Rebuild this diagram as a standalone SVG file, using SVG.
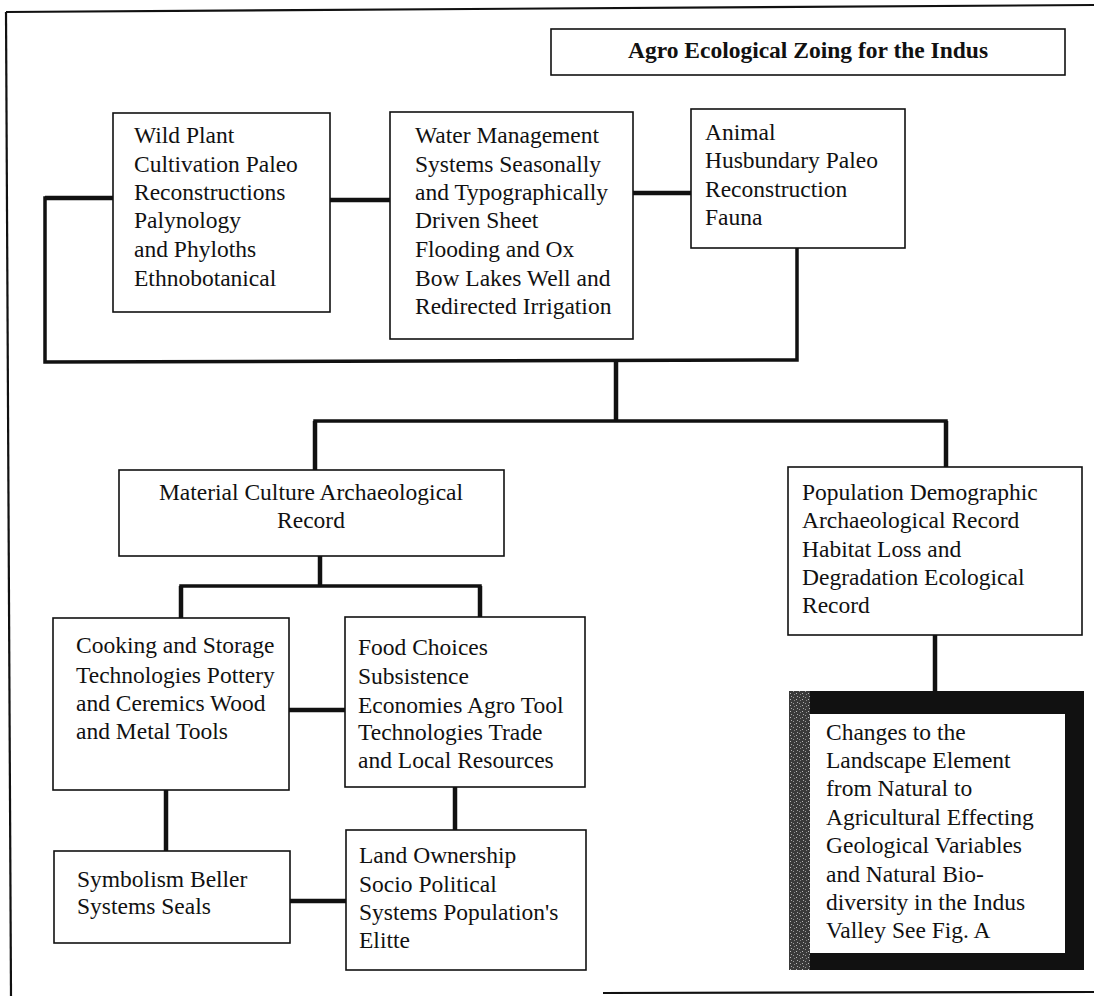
<svg xmlns="http://www.w3.org/2000/svg" width="1094" height="996" viewBox="0 0 1094 996">
<defs>
<style>
.box{fill:#fff;stroke:#111;stroke-width:1.6}
.t{font-family:"Liberation Serif","Times New Roman",serif;font-size:23.5px;fill:#111}
.tb{font-family:"Liberation Serif","Times New Roman",serif;font-size:23.5px;font-weight:bold;fill:#111}
.c{fill:none;stroke:#111;stroke-width:4.5;stroke-linecap:butt}
.cl{fill:none;stroke:#111;stroke-width:3.5}
.frame{fill:none;stroke:#111;stroke-width:2.2}
</style>
<pattern id="speck" width="6" height="6" patternUnits="userSpaceOnUse">
<rect width="6" height="6" fill="#3a3a3a"/>
<rect x="1" y="1" width="1" height="1" fill="#999"/>
<rect x="4" y="3" width="1" height="1" fill="#bbb"/>
<rect x="2" y="4" width="1" height="1" fill="#888"/>
<rect x="5" y="0" width="1" height="1" fill="#aaa"/>
</pattern>
</defs>
<rect width="1094" height="996" fill="#fff"/>
<g id="frame">
<path class="frame" d="M6,12 L1094,5"/>
<path class="frame" d="M6,12 L11,996"/>
<path class="frame" d="M603,993 L1094,992" stroke-width="1.8"/>
</g>
<g id="connectors">
<path class="cl" d="M113,198 L45,198 L45,362 L797,360 L797,248"/>
<path class="c" d="M45,198 L113,198"/>
<path class="c" d="M330,200 L390,200"/>
<path class="c" d="M633,193 L691,193"/>
<path class="c" d="M616,360 L616,421"/>
<path class="cl" d="M315,470 L315,421 L946,421 L946,467"/>
<path class="c" d="M315,421 L315,470"/>
<path class="c" d="M946,421 L946,467"/>
<path class="c" d="M320,556 L320,586"/>
<path class="cl" d="M181,618 L181,586 L480,586 L480,617"/>
<path class="c" d="M181,586 L181,618"/>
<path class="c" d="M480,586 L480,617"/>
<path class="c" d="M289,710 L345,710"/>
<path class="c" d="M166,790 L166,851"/>
<path class="c" d="M455,787 L455,830"/>
<path class="c" d="M290,901 L346,901"/>
<path class="c" d="M935,635 L935,691"/>
</g>
<g id="title">
<rect class="box" x="551" y="29" width="514" height="46"/>
<text class="tb" x="808" y="58" text-anchor="middle">Agro Ecological Zoing for the Indus</text>
</g>
<g id="wild-plant">
<rect class="box" x="113" y="113" width="217" height="199"/>
<text class="t" x="134" y="143">Wild Plant</text>
<text class="t" x="134" y="172">Cultivation Paleo</text>
<text class="t" x="134" y="200">Reconstructions</text>
<text class="t" x="134" y="228">Palynology</text>
<text class="t" x="134" y="257">and Phyloths</text>
<text class="t" x="134" y="286">Ethnobotanical</text>
</g>
<g id="water-management">
<rect class="box" x="390" y="112" width="243" height="227"/>
<text class="t" x="415" y="143">Water Management</text>
<text class="t" x="415" y="172">Systems Seasonally</text>
<text class="t" x="415" y="200">and Typographically</text>
<text class="t" x="415" y="228">Driven Sheet</text>
<text class="t" x="415" y="257">Flooding and Ox</text>
<text class="t" x="415" y="286">Bow Lakes Well and</text>
<text class="t" x="415" y="314">Redirected Irrigation</text>
</g>
<g id="animal-husbandry">
<rect class="box" x="691" y="109" width="214" height="139"/>
<text class="t" x="705" y="140">Animal</text>
<text class="t" x="705" y="168">Husbundary Paleo</text>
<text class="t" x="705" y="197">Reconstruction</text>
<text class="t" x="705" y="225">Fauna</text>
</g>
<g id="material-culture">
<rect class="box" x="119" y="470" width="385" height="86"/>
<text class="t" x="311" y="500" text-anchor="middle">Material Culture Archaeological</text>
<text class="t" x="311" y="528" text-anchor="middle">Record</text>
</g>
<g id="population">
<rect class="box" x="788" y="467" width="294" height="168"/>
<text class="t" x="802" y="500">Population Demographic</text>
<text class="t" x="802" y="528">Archaeological Record</text>
<text class="t" x="802" y="557">Habitat Loss and</text>
<text class="t" x="802" y="585">Degradation Ecological</text>
<text class="t" x="802" y="613">Record</text>
</g>
<g id="cooking">
<rect class="box" x="53" y="618" width="236" height="172"/>
<text class="t" x="76" y="653">Cooking and Storage</text>
<text class="t" x="76" y="683">Technologies Pottery</text>
<text class="t" x="76" y="711">and Ceremics Wood</text>
<text class="t" x="76" y="739">and Metal Tools</text>
</g>
<g id="food-choices">
<rect class="box" x="345" y="617" width="240" height="170"/>
<text class="t" x="358" y="655">Food Choices</text>
<text class="t" x="358" y="684">Subsistence</text>
<text class="t" x="358" y="713">Economies Agro Tool</text>
<text class="t" x="358" y="740">Technologies Trade</text>
<text class="t" x="358" y="768">and Local Resources</text>
</g>
<g id="symbolism">
<rect class="box" x="54" y="851" width="236" height="92"/>
<text class="t" x="77" y="887">Symbolism Beller</text>
<text class="t" x="77" y="914">Systems Seals</text>
</g>
<g id="land-ownership">
<rect class="box" x="346" y="830" width="240" height="140"/>
<text class="t" x="359" y="863">Land Ownership</text>
<text class="t" x="359" y="892">Socio Political</text>
<text class="t" x="359" y="920">Systems Population's</text>
<text class="t" x="359" y="948">Elitte</text>
</g>
<g id="landscape-changes">
<rect x="789" y="691" width="295" height="279" fill="#111"/>
<rect x="789" y="691" width="21" height="279" fill="url(#speck)"/>
<rect x="810" y="714" width="255" height="239" fill="#fff"/>
<text class="t" x="826" y="740">Changes to the</text>
<text class="t" x="826" y="768">Landscape Element</text>
<text class="t" x="826" y="796">from Natural to</text>
<text class="t" x="826" y="825">Agricultural Effecting</text>
<text class="t" x="826" y="853">Geological Variables</text>
<text class="t" x="826" y="882">and Natural Bio-</text>
<text class="t" x="826" y="910">diversity in the Indus</text>
<text class="t" x="826" y="938">Valley See Fig. A</text>
</g>
</svg>
